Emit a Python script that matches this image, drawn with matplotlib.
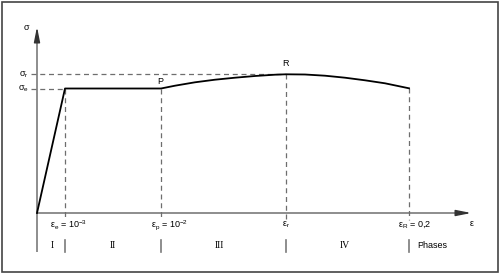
import matplotlib
matplotlib.use("Agg")
import matplotlib.pyplot as plt
from matplotlib.patches import Rectangle

plt.rcParams['font.family'] = ['Liberation Sans', 'DejaVu Sans']
plt.rcParams['mathtext.fontset'] = 'custom'
plt.rcParams['mathtext.rm'] = 'Liberation Sans'
plt.rcParams['mathtext.it'] = 'Liberation Sans'
plt.rcParams['mathtext.bf'] = 'Liberation Sans:bold'

# Schematic stress-strain curve (axis units, origin at 0,0)
curve_strain = [0, 28, 124, 138, 158, 178, 198, 218, 238, 249, 268, 288, 308, 328, 348, 372]
curve_stress = [0, 124.5, 124.5, 127.3, 130.7, 133.3, 135.3, 137, 138.3, 138.7, 138.5,
                137.3, 135.3, 132.7, 129.7, 124.7]

# key points
key_strain = [28, 124, 249, 372]          # e, p, r, R
key_stress = [124.5, 124.5, 138.7, 124.7]
strain_labels = [r'$\varepsilon_e$ = 10$^{-3}$', r'$\varepsilon_p$ = 10$^{-2}$',
                 r'$\varepsilon_r$', r'$\varepsilon_R$ = 0,2']
strain_label_x = [13, 114, 249, 361]
stress_levels = [138.7, 124.5]
stress_labels = [r'$\sigma_r$', r'$\sigma_e$']
phase_labels = ['I', 'II', 'III', 'IV']
phase_x = [15, 76, 182, 308]

fig = plt.figure(figsize=(4.99, 2.73), dpi=100)
ax = fig.add_axes([0, 0, 1, 1])
ax.set_xlim(-37, 462)
ax.set_ylim(-60, 213)
ax.axis('off')

# frame
fig.patches.append(Rectangle((1.5/499, 1.5/273), 1 - 3/499, 1 - 3/273, transform=fig.transFigure,
                             fill=False, edgecolor='#444444', linewidth=1.2))

grey = '#7a7a7a'
dgrey = '#6e6e6e'
# axes with arrows
ax.plot([0, 0], [-39, 180], color=grey, lw=1.2, solid_capstyle='butt')
ax.annotate('', xy=(0, 189), xytext=(0, 176),
            arrowprops=dict(arrowstyle='-|>,head_length=0.9,head_width=0.18', color='#333333', lw=1.0))
ax.plot([0, 428], [0, 0], color=grey, lw=1.2, solid_capstyle='butt')
ax.annotate('', xy=(437, 0), xytext=(424, 0),
            arrowprops=dict(arrowstyle='-|>,head_length=0.9,head_width=0.18', color='#333333', lw=1.0))

# dashed guides
for xs, ys in zip(key_strain, key_stress):
    ax.plot([xs, xs], [ys, -7], color=dgrey, lw=0.9, ls=(0, (4, 3)))
for lvl, xs in zip(stress_levels, [249, 28]):
    ax.plot([-6, xs], [lvl, lvl], color=dgrey, lw=0.9, ls=(0, (4, 3)))

# curve
ax.plot(curve_strain, curve_stress, color='black', lw=1.3, solid_joinstyle='round')

# labels
fs = 6.5
ax.text(-10, 186, r'$\sigma$', fontsize=fs, ha='center', va='center')
ax.text(435, -10, r'$\varepsilon$', fontsize=fs, ha='center', va='center')
for lvl, lab in zip(stress_levels, stress_labels):
    ax.text(-8, lvl, lab, fontsize=fs, ha='right', va='center')
ax.text(123, 131, 'P', fontsize=fs, ha='center', va='center')
ax.text(249, 150, 'R', fontsize=fs, ha='center', va='center')
for xl, lab in zip(strain_label_x, strain_labels):
    ha = 'center' if lab == r'$\varepsilon_r$' else 'left'
    ax.text(xl, -12, lab, fontsize=fs, ha=ha, va='center')

# phases
for xs in key_strain:
    ax.plot([xs, xs], [-27, -39], color=grey, lw=1.2)
for xp, lab in zip(phase_x, phase_labels):
    ax.text(xp, -33, lab, fontsize=7, ha='center', va='center', family='Liberation Serif')
ax.text(380, -33, 'Phases', fontsize=fs, ha='left', va='center')

fig.savefig('out.png', dpi=100)
